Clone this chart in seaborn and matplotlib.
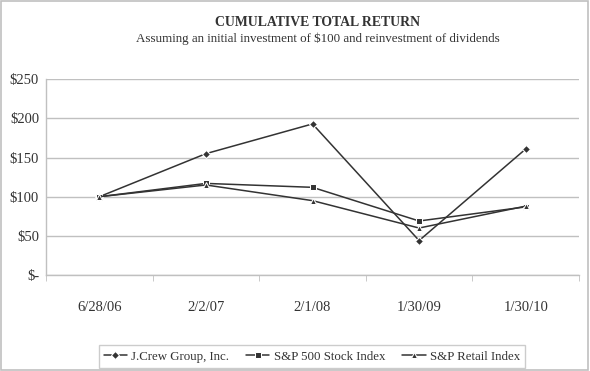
import pandas as pd
import matplotlib
matplotlib.use('Agg')
import matplotlib.pyplot as plt
import seaborn as sns
from matplotlib.patches import Rectangle

# Data
dates = ['6/28/06', '2/2/07', '2/1/08', '1/30/09', '1/30/10']
jcrew = [100, 155, 193, 44, 161]
sp500 = [100, 117, 112, 69, 87]
retail = [100, 115, 95, 60, 88]
series_names = ['J.Crew Group, Inc.', 'S&P 500 Stock Index', 'S&P Retail Index']
y_ticks = [0, 50, 100, 150, 200, 250]

df = pd.DataFrame({
    'date': dates * 3,
    'value': jcrew + sp500 + retail,
    'series': [series_names[0]] * 5 + [series_names[1]] * 5 + [series_names[2]] * 5,
})

sns.set_style('white')
plt.rcParams['font.family'] = ['Liberation Serif', 'DejaVu Serif']

ink = '#333333'
grid = '#c0c0c0'

fig = plt.figure(figsize=(5.9, 3.71), dpi=100)
ax = fig.add_axes([46 / 590, 96 / 371, 533 / 590, 195.7 / 371])

sns.lineplot(data=df, x='date', y='value', hue='series', style='series',
             markers=['D', 's', '^'], dashes=False, palette=[ink] * 3,
             markersize=4.5, linewidth=1.1, sort=False, ax=ax)

# y axis
ax.set_ylim(0, 250)
ax.set_yticks(y_ticks)
ax.set_yticklabels(['$-' if v == 0 else f'${v}' for v in y_ticks])
ax.yaxis.grid(True, color=grid, linewidth=1)
ax.tick_params(axis='y', length=3, color=grid, pad=2, labelsize=10.5, labelcolor=ink)

# x axis: categories with tick marks on the boundaries
ax.set_xlim(-0.5, 4.5)
ax.set_xticks(range(5))
ax.set_xticklabels(dates)
ax.set_xticks([i - 0.5 for i in range(6)], minor=True)
ax.tick_params(axis='x', which='major', length=0, pad=19, labelsize=10.5, labelcolor=ink)
ax.tick_params(axis='x', which='minor', length=4, color=grid, bottom=True)
ax.set_xlabel('')
ax.set_ylabel('')

for s in ['top', 'right']:
    ax.spines[s].set_visible(False)
for s in ['left', 'bottom']:
    ax.spines[s].set_color(grid)
    ax.spines[s].set_linewidth(1)

# legend below the plot
handles, labels = ax.get_legend_handles_labels()
for h in handles:
    h.set_markersize(4)
ax.legend(handles, labels, loc='center', bbox_to_anchor=(312 / 590, 14.5 / 371),
          bbox_transform=fig.transFigure, ncol=3, frameon=True, fancybox=False,
          edgecolor=grid, fontsize=9.3, handlelength=1.8, handletextpad=0.35,
          columnspacing=1.3, borderpad=0.4, borderaxespad=0, labelcolor=ink)
ax.get_legend().get_frame().set_linewidth(1)

# titles
fig.text(318 / 590, 1 - 22 / 371, 'CUMULATIVE TOTAL RETURN', ha='center', va='center',
         fontsize=9.9, fontweight='bold', color=ink)
fig.text(318 / 590, 1 - 39 / 371, 'Assuming an initial investment of $100 and reinvestment of dividends',
         ha='center', va='center', fontsize=9.35, color=ink)

# figure border
fig.patches.append(Rectangle((0.002, 0.002), 0.994, 0.994, transform=fig.transFigure,
                             fill=False, edgecolor=grid, linewidth=1.2))

fig.savefig('out.png', dpi=100)
